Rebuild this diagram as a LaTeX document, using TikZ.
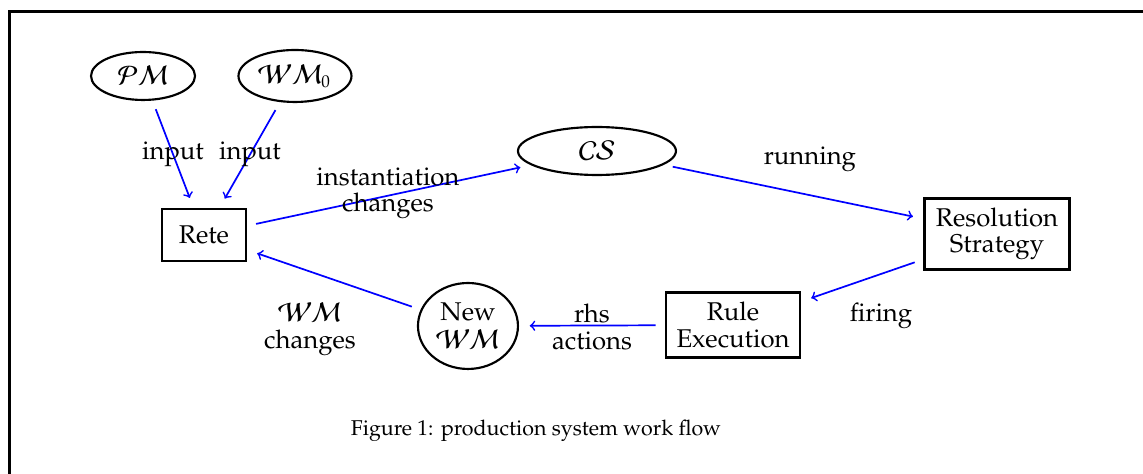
\documentclass[tikz,border=0pt]{standalone}
\usepackage[T1]{fontenc}
\usepackage{pxfonts}
\usetikzlibrary{shapes.geometric}

\tikzset{
	box/.style={draw, line width=1pt, align=center, inner sep=0pt, font=\large,
		execute at begin node=\setlength{\baselineskip}{12.3pt}},
	oval/.style={draw, line width=1pt, ellipse, align=center, inner sep=0pt, font=\large,
		execute at begin node=\setlength{\baselineskip}{13pt}},
	lbl/.style={align=center, font=\large,
		execute at begin node=\setlength{\baselineskip}{12.3pt}},
	flow/.style={->, thick, blue, shorten <=4.3pt, shorten >=5pt},
}

\begin{document}
\begin{tikzpicture}
		\useasboundingbox (0, 0) rectangle (18.773, 7.785);

		% 枠を描画
		\draw[line width=1.4pt] (0.148, 0) -- (0.148, 7.604) -- (18.773, 7.604);

		% ノードを描画
		\node[oval, minimum width=1.708cm, minimum height=0.788cm] (pm) at (2.349, 6.537) {$\mathcal{PM}$};
		\node[oval, minimum width=1.856cm, minimum height=0.854cm] (wm0) at (4.845, 6.537) {$\mathcal{WM}_0$};
		\node[box, minimum width=1.380cm, minimum height=0.854cm] (rete) at (3.350, 3.925) {Rete};
		\node[oval, minimum width=2.595cm, minimum height=0.788cm] (cs) at (9.805, 5.305) {$\mathcal{CS}$};
		\node[box, minimum width=2.381cm, minimum height=1.166cm] (res) at (16.375, 3.942) {Resolution\\Strategy};
		\node[box, minimum width=2.201cm, minimum height=1.068cm] (rule) at (12.039, 2.447) {Rule\\Execution};
		\node[oval, minimum width=1.642cm, minimum height=1.412cm] (newwm) at (7.686, 2.431) {New\\$\mathcal{WM}$};

		% 矢印を描画
		\draw[flow] (pm) -- (rete);
		\draw[flow] (wm0) -- (rete);
		\draw[flow] (rete) -- (cs);
		\draw[flow] (cs) -- (res);
		\draw[flow] (res) -- (rule);
		\draw[flow] (rule) -- (newwm);
		\draw[flow] (newwm) -- (rete);

		% 文字を描画
		\node[lbl] (in1) at (2.841, 5.256) {input};
		\node[lbl] (in2) at (4.106, 5.256) {input};
		\node[lbl] (inst) at (6.372, 4.615) {instantiation\\changes};
		\node[lbl] (run) at (13.303, 5.174) {running};
		\node[lbl] (fire) at (14.470, 2.603) {firing};
		\node[lbl] (rhs) at (9.723, 2.414) {rhs\\actions};
		\node[lbl] (wmch) at (5.091, 2.381) {$\mathcal{WM}$\\changes};

		% キャプション
		\node (cap) at (8.803, 0.706) {Figure 1: production system work flow};
\end{tikzpicture}
\end{document}
